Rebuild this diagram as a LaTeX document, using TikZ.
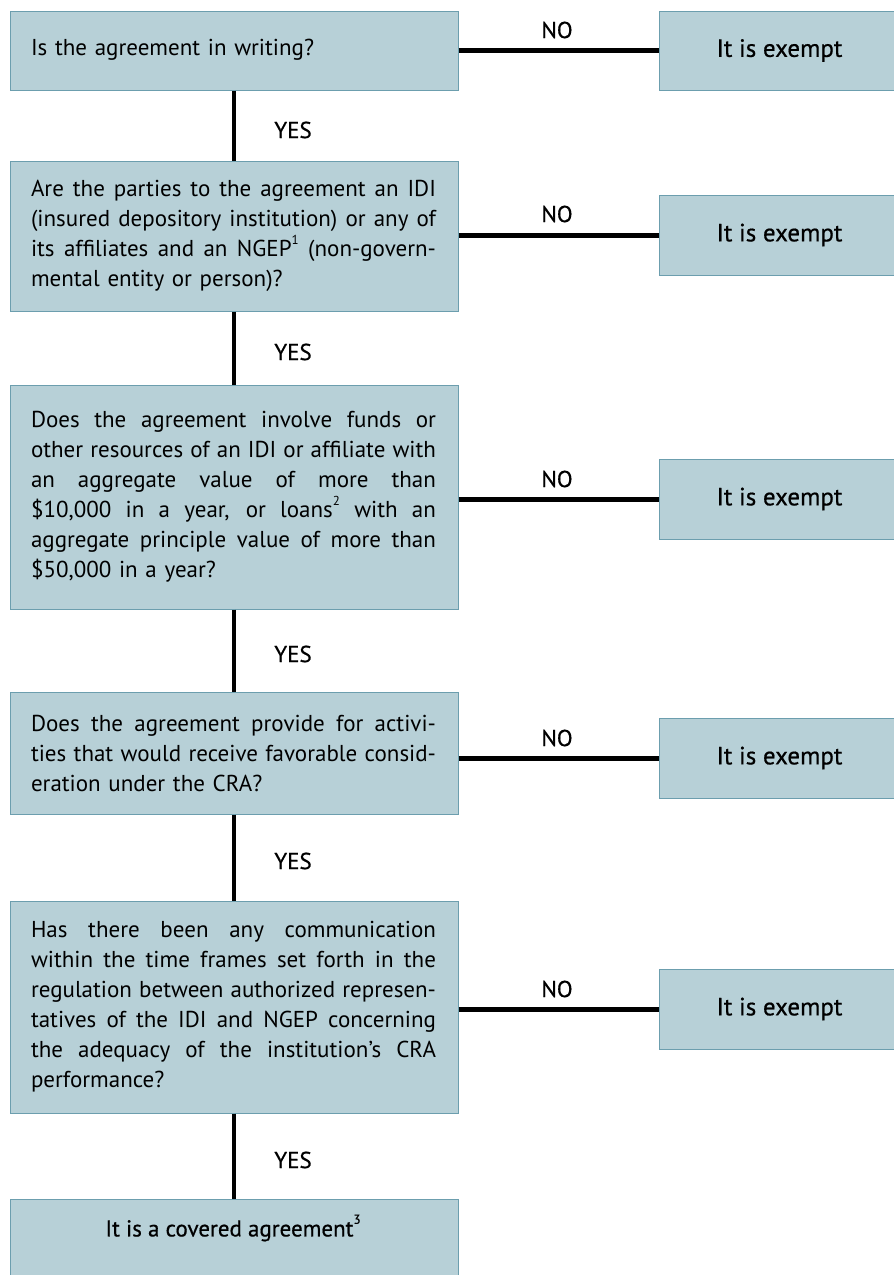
\documentclass[tikz,border=0pt]{standalone}
\usepackage{fontspec}
\usepackage{graphicx}
\setmainfont{PT Sans}
\newfontfamily\medfont[FakeBold=0.6]{PT Sans}
\definecolor{boxfill}{RGB}{183,208,215}
\definecolor{boxline}{RGB}{108,158,174}
\newsavebox\jlbox
\newcommand{\jlsp}{\spaceskip=.28em plus 1fil minus .12em\relax}
\newcommand{\jl}[1]{\sbox\jlbox{\jlsp #1}\leavevmode\ifdim\wd\jlbox>405pt \resizebox{405pt}{\height}{\usebox\jlbox}\else\hbox to 405pt{\jlsp #1}\fi\\}
\newcommand{\fnmark}[1]{\raisebox{0.55em}{\fontsize{13}{13}\selectfont #1}}
\begin{document}
\begin{tikzpicture}[x=1pt,y=-1pt,
  qbox/.style={draw=boxline, fill=boxfill, line width=1pt, inner sep=0pt, minimum width=448pt},
  ebox/.style={draw=boxline, fill=boxfill, line width=1pt, inner sep=0pt, minimum width=241pt, minimum height=80pt, font=\medfont\fontsize{25}{28}\selectfont},
  qtext/.style={text width=405pt, align=left, inner sep=0pt, font=\fontsize{23}{30}\selectfont},
  lbl/.style={inner sep=0pt, font=\medfont\fontsize{23}{26}\selectfont},
  vline/.style={line width=4pt, black},
  hline/.style={line width=5pt, black}]
\useasboundingbox (0,0) rectangle (894,1275);
% question boxes
\node[qbox, minimum height=79pt] (q1) at (234,50.5) {};
\node[qbox, minimum height=150pt] (q2) at (234,236) {};
\node[qbox, minimum height=224pt] (q3) at (234,497) {};
\node[qbox, minimum height=122pt] (q4) at (234,753) {};
\node[qbox, minimum height=212pt] (q5) at (234,1007) {};
\node[qbox, minimum height=101pt] (q6) at (234,1249.5) {};
% exempt boxes
\node[ebox, minimum height=79pt] (e1) at (779.5,50.5) {It is exempt};
\node[ebox] (e2) at (779.5,235) {It is exempt};
\node[ebox] (e3) at (779.5,499) {It is exempt};
\node[ebox] (e4) at (779.5,758) {It is exempt};
\node[ebox] (e5) at (779.5,1009) {It is exempt};
% texts
\node[qtext] (t1) at (233.5,50) {Is the agreement in writing?};
\node[qtext] (t2) at (233.5,236) {\jl{Are the parties to the agreement an IDI}\jl{(insured depository institution) or any of}\jl{its affiliates and an NGEP\fnmark{1} (non-govern-}mental entity or person)?};
\node[qtext] (t3) at (233.5,497) {\jl{Does the agreement involve funds or}\jl{other resources of an IDI or affiliate with}\jl{an aggregate value of more than}\jl{\$10,000 in a year, or loans\fnmark{2} with an}\jl{aggregate principle value of more than}\$50,000 in a year?};
\node[qtext] (t4) at (233.5,753) {\jl{Does the agreement provide for activi-}\jl{ties that would receive favorable consid-}eration under the CRA?};
\node[qtext] (t5) at (233.5,1007) {\jl{Has there been any communication}\jl{within the time frames set forth in the}\jl{regulation between authorized represen-}\jl{tatives of the IDI and NGEP concerning}\jl{the adequacy of the institution’s CRA}performance?};
\node[inner sep=0pt, font=\medfont\fontsize{23}{26}\selectfont] (t6) at (233,1228) {It is a covered agreement\fnmark{3}};
% connectors
\draw[vline] (q1.south) -- (q2.north);
\draw[vline] (q2.south) -- (q3.north);
\draw[vline] (q3.south) -- (q4.north);
\draw[vline] (q4.south) -- (q5.north);
\draw[vline] (q5.south) -- (q6.north);
\draw[hline] (e1.west -| q1.east) -- (e1.west);
\draw[hline] (e2.west -| q2.east) -- (e2.west);
\draw[hline] (e3.west -| q3.east) -- (e3.west);
\draw[hline] (e4.west -| q4.east) -- (e4.west);
\draw[hline] (e5.west -| q5.east) -- (e5.west);
% labels
\node[lbl] (y1) at (293,130) {YES};
\node[lbl] (y2) at (293,352) {YES};
\node[lbl] (y3) at (293,654) {YES};
\node[lbl] (y4) at (293,861) {YES};
\node[lbl] (y5) at (293,1160) {YES};
\node[lbl] (n1) at (557,30) {NO};
\node[lbl] (n2) at (557,214) {NO};
\node[lbl] (n3) at (557,479) {NO};
\node[lbl] (n4) at (557,738) {NO};
\node[lbl] (n5) at (557,989) {NO};
\end{tikzpicture}
\end{document}
